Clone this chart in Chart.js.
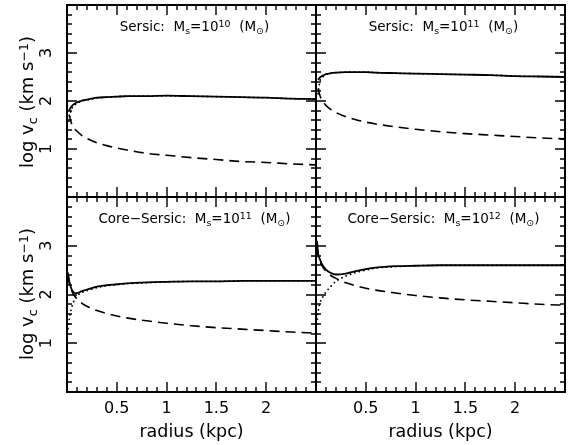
<!DOCTYPE html>
<html>
<head>
<meta charset="utf-8">
<script src="https://cdn.jsdelivr.net/npm/chart.js@4.4.0/dist/chart.umd.min.js"></script>
<style>
  html, body { margin: 0; padding: 0; background: #fff; }
  #wrap { position: relative; width: 574px; height: 445px; overflow: hidden; font-family: "DejaVu Sans", sans-serif; color: #000; }
  canvas { position: absolute; left: 0; top: 0; }
  .title { position: absolute; width: 249px; text-align: center; font-size: 13.5px; line-height: 1; white-space: nowrap; }
  .up { position: relative; top: -0.42em; font-size: 0.7em; }
  .dn { position: relative; top: 0.32em; font-size: 0.7em; }
  .xlab { position: absolute; width: 249px; text-align: center; font-size: 17.5px; line-height: 1; top: 423px; white-space: nowrap; }
  .ylab { position: absolute; width: 200px; left: -73px; text-align: center; font-size: 18px; line-height: 1; transform: rotate(-90deg); white-space: nowrap; }
</style>
</head>
<body>
<div id="wrap">
  <canvas id="p1" width="574" height="445"></canvas>
  <canvas id="p2" width="574" height="445"></canvas>
  <canvas id="p3" width="574" height="445"></canvas>
  <canvas id="p4" width="574" height="445"></canvas>

  <div class="title" style="left:70px; top:20px;">Sersic:&nbsp; M<span class="dn">s</span>=10<span class="up">10</span>&nbsp; (M<span class="dn">⊙</span>)</div>
  <div class="title" style="left:319px; top:20px;">Sersic:&nbsp; M<span class="dn">s</span>=10<span class="up">11</span>&nbsp; (M<span class="dn">⊙</span>)</div>
  <div class="title" style="left:70px; top:212px;">Core−Sersic:&nbsp; M<span class="dn">s</span>=10<span class="up">11</span>&nbsp; (M<span class="dn">⊙</span>)</div>
  <div class="title" style="left:319px; top:212px;">Core−Sersic:&nbsp; M<span class="dn">s</span>=10<span class="up">12</span>&nbsp; (M<span class="dn">⊙</span>)</div>

  <div class="ylab" style="top:93px;">log v<span class="dn">c</span>&nbsp;(km s<span class="up">−1</span>)</div>
  <div class="ylab" style="top:285px;">log v<span class="dn">c</span>&nbsp;(km s<span class="up">−1</span>)</div>
  <div class="xlab" style="left:67px;">radius (kpc)</div>
  <div class="xlab" style="left:316px;">radius (kpc)</div>
</div>
<script>
// radius in kpc, shared by all panels
const radius = [0.01, 0.02, 0.04, 0.06, 0.08, 0.1, 0.15, 0.2, 0.3, 0.4, 0.5, 0.6, 0.8, 1.0, 1.25, 1.5, 1.75, 2.0, 2.25, 2.5];

// log v_c: total (solid), galaxy (dotted), black hole (dashed)
const sersic10Total  = [null, 1.80, 1.87, 1.92, 1.95, 1.97, 2.01, 2.03, 2.07, 2.08, 2.09, 2.10, 2.10, 2.11, 2.10, 2.09, 2.08, 2.07, 2.05, 2.04];
const sersic10Galaxy = [null, 1.58, 1.80, 1.88, 1.92, 1.95, 2.00, 2.02, 2.06, 2.08, 2.09, 2.10, 2.10, 2.11, 2.10, 2.09, 2.08, 2.07, 2.05, 2.04];
const sersic10BH     = [null, 1.72, 1.56, 1.48, 1.41, 1.37, 1.28, 1.22, 1.13, 1.07, 1.02, 0.98, 0.91, 0.87, 0.82, 0.78, 0.74, 0.72, 0.69, 0.67];

const sersic11Total  = [null, 2.44, 2.49, 2.52, 2.54, 2.56, 2.58, 2.59, 2.60, 2.60, 2.60, 2.59, 2.58, 2.57, 2.56, 2.55, 2.54, 2.52, 2.51, 2.50];
const sersic11Galaxy = [null, 2.15, 2.42, 2.49, 2.52, 2.55, 2.58, 2.59, 2.60, 2.60, 2.60, 2.59, 2.58, 2.57, 2.56, 2.55, 2.54, 2.52, 2.51, 2.50];
const sersic11BH     = [null, 2.26, 2.11, 2.02, 1.96, 1.91, 1.82, 1.76, 1.67, 1.61, 1.56, 1.52, 1.46, 1.41, 1.36, 1.32, 1.29, 1.26, 1.23, 1.21];

const core11Total  = [2.45, 2.30, 2.14, 2.06, 2.03, 2.03, 2.07, 2.10, 2.16, 2.19, 2.21, 2.23, 2.25, 2.26, 2.27, 2.27, 2.28, 2.28, 2.28, 2.28];
const core11Galaxy = [1.30, 1.45, 1.68, 1.82, 1.91, 1.97, 2.04, 2.08, 2.14, 2.18, 2.20, 2.22, 2.24, 2.26, 2.27, 2.27, 2.28, 2.28, 2.28, 2.28];
const core11BH     = [2.41, 2.26, 2.11, 2.02, 1.96, 1.91, 1.82, 1.76, 1.67, 1.61, 1.56, 1.52, 1.46, 1.41, 1.36, 1.32, 1.29, 1.26, 1.23, 1.21];

const core12Total  = [3.10, 2.86, 2.72, 2.62, 2.56, 2.51, 2.44, 2.41, 2.43, 2.48, 2.52, 2.55, 2.58, 2.59, 2.60, 2.60, 2.60, 2.60, 2.60, 2.60];
const core12Galaxy = [1.40, 1.62, 1.83, 1.92, 1.99, 2.05, 2.17, 2.27, 2.38, 2.45, 2.50, 2.54, 2.57, 2.59, 2.60, 2.60, 2.60, 2.60, 2.60, 2.60];
const core12BH     = [2.98, 2.83, 2.68, 2.59, 2.53, 2.48, 2.39, 2.33, 2.24, 2.18, 2.13, 2.09, 2.03, 1.98, 1.93, 1.89, 1.86, 1.83, 1.80, 1.78];

// axis ranges and labelled ticks
const xMin = 0, xMax = 2.5;
const yMin = 0, yMax = 4;
const xTickLabels = [0.5, 1, 1.5, 2];
const yTickLabels = [1, 2, 3];

const tickFont = { family: 'DejaVu Sans', size: 16 };

// box + inward ticks on all four sides (pgplot style), rotated y labels on the left column
const framePlugin = {
  id: 'frame',
  afterDatasetsDraw(chart, args, opts) {
    const { ctx, chartArea: a, scales: { x, y } } = chart;
    ctx.save();
    ctx.strokeStyle = '#000';
    ctx.lineWidth = 1.4;
    ctx.beginPath();
    for (let i = 1; i < 25; i++) {
      const px = Math.round(x.getPixelForValue(i / 10));
      const len = i % 5 === 0 ? 10 : 5;
      ctx.moveTo(px, a.top); ctx.lineTo(px, a.top + len);
      ctx.moveTo(px, a.bottom); ctx.lineTo(px, a.bottom - len);
    }
    for (let j = 1; j < 20; j++) {
      const py = Math.round(y.getPixelForValue(j / 5));
      const len = j % 5 === 0 ? 10 : 5;
      ctx.moveTo(a.left, py); ctx.lineTo(a.left + len, py);
      ctx.moveTo(a.right, py); ctx.lineTo(a.right - len, py);
    }
    ctx.stroke();
    ctx.lineWidth = 2;
    ctx.strokeRect(a.left, a.top, a.right - a.left, a.bottom - a.top);

    if (opts.yLabels) {
      ctx.fillStyle = '#000';
      ctx.font = tickFont.size + 'px "' + tickFont.family + '"';
      ctx.textAlign = 'center';
      ctx.textBaseline = 'middle';
      yTickLabels.forEach(v => {
        ctx.save();
        ctx.translate(a.left - 20, y.getPixelForValue(v));
        ctx.rotate(-Math.PI / 2);
        ctx.fillText(String(v), 0, 0);
        ctx.restore();
      });
    }
    ctx.restore();
  }
};

function panelChart(id, pad, showX, showY, total, galaxy, bh) {
  const pts = vals => radius.map((r, i) => ({ x: r, y: vals[i] })).filter(p => p.y !== null);
  const line = { borderColor: '#000', backgroundColor: '#000', pointRadius: 0, fill: false, cubicInterpolationMode: 'monotone' };
  new Chart(document.getElementById(id), {
    type: 'line',
    data: {
      datasets: [
        Object.assign({ data: pts(galaxy), borderDash: [0.1, 4.5], borderCapStyle: 'round', borderWidth: 1.8 }, line),
        Object.assign({ data: pts(bh), borderDash: [10, 6], borderWidth: 1.6 }, line),
        Object.assign({ data: pts(total), borderWidth: 1.8 }, line)
      ]
    },
    options: {
      responsive: false,
      animation: false,
      devicePixelRatio: 1,
      events: [],
      layout: { padding: pad },
      plugins: {
        legend: { display: false },
        tooltip: { enabled: false },
        colors: { enabled: false },
        frame: { yLabels: showY }
      },
      scales: {
        x: {
          type: 'linear', min: xMin, max: xMax, display: showX,
          grid: { display: false, drawTicks: true, tickLength: 7 },
          border: { display: false },
          ticks: {
            stepSize: 0.5, autoSkip: false, maxRotation: 0, padding: 0, color: '#000', font: tickFont,
            callback: v => xTickLabels.includes(v) ? String(v) : null
          },
          afterFit: s => { if (showX) s.height = 53; }
        },
        y: {
          type: 'linear', min: yMin, max: yMax, display: false
        }
      }
    },
    plugins: [framePlugin]
  });
}

panelChart('p1', { left: 67, top: 5, right: 258, bottom: 248 }, false, true, sersic10Total, sersic10Galaxy, sersic10BH);
panelChart('p2', { left: 316, top: 5, right: 9, bottom: 248 }, false, false, sersic11Total, sersic11Galaxy, sersic11BH);
panelChart('p3', { left: 67, top: 197, right: 258, bottom: 0 }, true, true, core11Total, core11Galaxy, core11BH);
panelChart('p4', { left: 316, top: 197, right: 9, bottom: 0 }, true, false, core12Total, core12Galaxy, core12BH);
</script>
</body>
</html>
